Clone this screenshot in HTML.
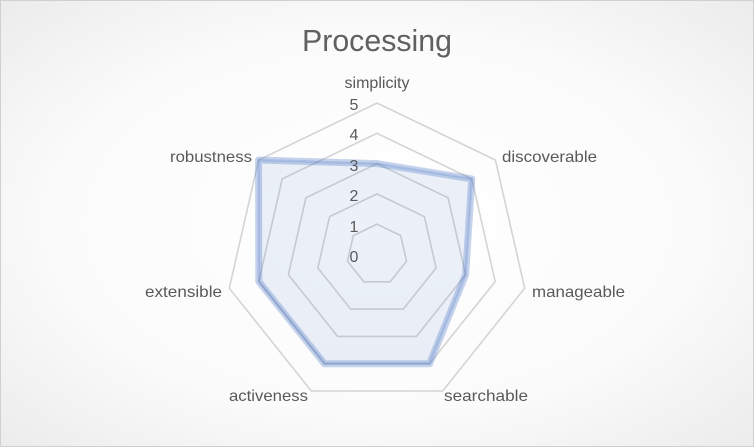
<!DOCTYPE html>
<html><head><style>
html,body{margin:0;padding:0;}
body{width:754px;height:447px;overflow:hidden;background:#fff;}
svg{display:block;font-family:"Liberation Sans",sans-serif;}
</style></head><body>
<svg id="s" width="754" height="447" viewBox="0 0 754 447">
<defs><radialGradient id="g" cx="50%" cy="50%" r="70%"><stop offset="0" stop-color="#ffffff"/><stop offset="0.6" stop-color="#fbfbfb"/><stop offset="1" stop-color="#ececec"/></radialGradient></defs>
<rect x="0.5" y="0.5" width="753" height="446" fill="url(#g)" stroke="#d0d0d0"/>
<text x="377" y="51" text-anchor="middle" font-size="31" fill="#606060" textLength="150" lengthAdjust="spacingAndGlyphs">Processing</text>
<g id="grid" fill="none" stroke="#d4d4d4" stroke-width="1.6"></g>
<g id="data"></g>
<g font-size="16" fill="#595959">
<text x="377" y="88" text-anchor="middle" textLength="65" lengthAdjust="spacingAndGlyphs">simplicity</text>
<text x="502" y="162" textLength="95" lengthAdjust="spacingAndGlyphs">discoverable</text>
<text x="532" y="297" textLength="93" lengthAdjust="spacingAndGlyphs">manageable</text>
<text x="444" y="401" textLength="84" lengthAdjust="spacingAndGlyphs">searchable</text>
<text x="308" y="401" text-anchor="end" textLength="79" lengthAdjust="spacingAndGlyphs">activeness</text>
<text x="222" y="297" text-anchor="end" textLength="77" lengthAdjust="spacingAndGlyphs">extensible</text>
<text x="252" y="162" text-anchor="end" textLength="82" lengthAdjust="spacingAndGlyphs">robustness</text>
</g>
<g font-size="16" fill="#595959" text-anchor="middle">
<text x="354" y="110">5</text>
<text x="354" y="140">4</text>
<text x="354" y="171">3</text>
<text x="354" y="201">2</text>
<text x="354" y="232">1</text>
<text x="354" y="262">0</text>
</g>
</svg>
<script>
var cx=377,cy=254.5,u=30.3,ns="http://www.w3.org/2000/svg";
function pts(vals){return vals.map(function(v,k){var a=(-90+k*360/7)*Math.PI/180;return (cx+v*u*Math.cos(a)).toFixed(1)+","+(cy+v*u*Math.sin(a)).toFixed(1);}).join(" ");}
var g=document.getElementById("grid");
for(var l=1;l<=5;l++){var p=document.createElementNS(ns,"polygon");p.setAttribute("points",pts([l,l,l,l,l,l,l]));g.appendChild(p);}
var d=document.getElementById("data"),vals=[3,4,3,4,4,4,5];
var a=document.createElementNS(ns,"polygon");a.setAttribute("points",pts(vals));a.setAttribute("fill","rgba(68,114,196,0.1)");a.setAttribute("stroke","rgba(68,114,196,0.3)");a.setAttribute("stroke-width","7");a.setAttribute("stroke-linejoin","round");d.appendChild(a);
var b=document.createElementNS(ns,"polygon");b.setAttribute("points",pts(vals));b.setAttribute("fill","none");b.setAttribute("stroke","rgba(68,114,196,0.2)");b.setAttribute("stroke-width","2.5");d.appendChild(b);
</script>
</body></html>
